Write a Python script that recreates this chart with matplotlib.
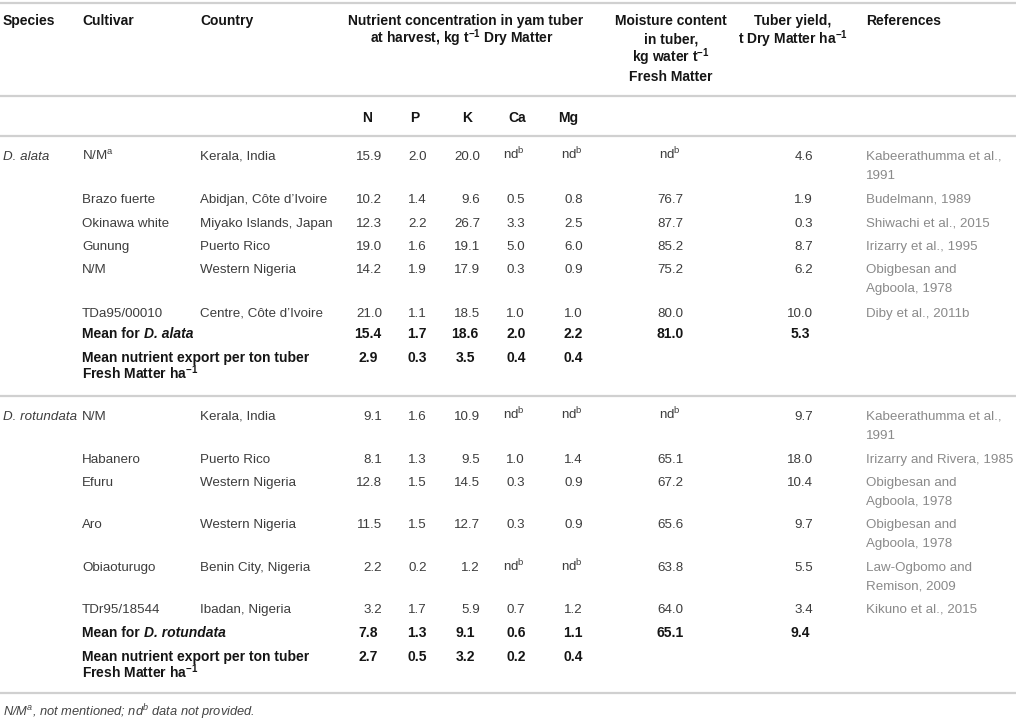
import matplotlib
matplotlib.use("Agg")
import matplotlib.pyplot as plt

plt.rcParams['font.family'] = ['Liberation Sans', 'DejaVu Sans']
plt.rcParams['mathtext.fontset'] = 'custom'
plt.rcParams['mathtext.rm'] = 'Liberation Sans'
plt.rcParams['mathtext.it'] = 'Liberation Sans:italic'
plt.rcParams['mathtext.bf'] = 'Liberation Sans:bold'
plt.rcParams['mathtext.bfit'] = 'Liberation Sans:italic:bold'

# ---------------- data ----------------
species = ["D. alata", "D. rotundata"]

alata_cultivar = [r"N/M$^{\mathrm{a}}$", "Brazo fuerte", "Okinawa white", "Gunung", "N/M", "TDa95/00010"]
alata_country = ["Kerala, India", "Abidjan, Côte d’Ivoire", "Miyako Islands, Japan",
                 "Puerto Rico", "Western Nigeria", "Centre, Côte d’Ivoire"]
alata_N = [15.9, 10.2, 12.3, 19.0, 14.2, 21.0]
alata_P = [2.0, 1.4, 2.2, 1.6, 1.9, 1.1]
alata_K = [20.0, 9.6, 26.7, 19.1, 17.9, 18.5]
alata_Ca = [None, 0.5, 3.3, 5.0, 0.3, 1.0]
alata_Mg = [None, 0.8, 2.5, 6.0, 0.9, 1.0]
alata_moisture = [None, 76.7, 87.7, 85.2, 75.2, 80.0]
alata_yield = [4.6, 1.9, 0.3, 8.7, 6.2, 10.0]
alata_refs = ["Kabeerathumma et al.,\n1991", "Budelmann, 1989", "Shiwachi et al., 2015",
              "Irizarry et al., 1995", "Obigbesan and\nAgboola, 1978", "Diby et al., 2011b"]
alata_mean = [15.4, 1.7, 18.6, 2.0, 2.2, 81.0, 5.3]
alata_export = [2.9, 0.3, 3.5, 0.4, 0.4]

rot_cultivar = ["N/M", "Habanero", "Efuru", "Aro", "Obiaoturugo", "TDr95/18544"]
rot_country = ["Kerala, India", "Puerto Rico", "Western Nigeria", "Western Nigeria",
               "Benin City, Nigeria", "Ibadan, Nigeria"]
rot_N = [9.1, 8.1, 12.8, 11.5, 2.2, 3.2]
rot_P = [1.6, 1.3, 1.5, 1.5, 0.2, 1.7]
rot_K = [10.9, 9.5, 14.5, 12.7, 1.2, 5.9]
rot_Ca = [None, 1.0, 0.3, 0.3, None, 0.7]
rot_Mg = [None, 1.4, 0.9, 0.9, None, 1.2]
rot_moisture = [None, 65.1, 67.2, 65.6, 63.8, 64.0]
rot_yield = [9.7, 18.0, 10.4, 9.7, 5.5, 3.4]
rot_refs = ["Kabeerathumma et al.,\n1991", "Irizarry and Rivera, 1985", "Obigbesan and\nAgboola, 1978",
            "Obigbesan and\nAgboola, 1978", "Law-Ogbomo and\nRemison, 2009", "Kikuno et al., 2015"]
rot_mean = [7.8, 1.3, 9.1, 0.6, 1.1, 65.1, 9.4]
rot_export = [2.7, 0.5, 3.2, 0.2, 0.4]

nutrients = ["N", "P", "K", "Ca", "Mg"]

# ---------------- layout ----------------
W, H = 1016, 720
fig = plt.figure(figsize=(W / 100, H / 100), dpi=100)
ax = fig.add_axes([0, 0, 1, 1])
ax.set_xlim(0, W)
ax.set_ylim(H, 0)
ax.axis('off')
renderer = fig.canvas.get_renderer()

FS = 9.6
FSB = 10.0
LH = 19          # line height in px
BASE = 4.8       # center -> baseline offset
C_HEAD = '#151515'
C_BODY = '#3d3d3d'
C_REF = '#8a8a8a'
C_LINE = '#d0d0d0'

x_species, x_cult, x_country, x_ref = 3, 82, 200, 866
nut_right = [382, 427, 480, 525, 583]
nut_center = [368, 417, 465, 516, 573]
x_moist = 670
yield_right, yield_center = 813, 800


def txt(x, y, s, ha='left', color=C_BODY, weight='normal', style='normal', fs=None):
    if fs is None:
        fs = FSB if weight == 'bold' else FS
    return ax.text(x, y + BASE, s, ha=ha, va='baseline', color=color, fontsize=fs,
                   fontweight=weight, fontstyle=style)


def multiline(x, y, s, **kw):
    for i, line in enumerate(s.split("\n")):
        txt(x, y + i * LH, line, **kw)


def hline(y):
    ax.plot([0, W], [y, y], color=C_LINE, lw=1.6, solid_capstyle='butt')


def fmt(v):
    return r"nd$^{\mathrm{b}}$" if v is None else f"{v:.1f}"


# rules
for yl in [3, 96, 136, 396, 693]:
    hline(yl)

# header
hb = dict(color=C_HEAD, weight='bold')
txt(x_species, 20, "Species", **hb)
txt(x_cult, 20, "Cultivar", **hb)
txt(x_country, 20, "Country", **hb)
txt(466, 20, "Nutrient concentration in yam tuber", ha='center', **hb)
txt(462, 38.5, r"at harvest, kg t$^{\mathbf{-1}}$ Dry Matter", ha='center', **hb)
moist_head = ["Moisture content", "in tuber,", r"kg water t$^{\mathbf{-1}}$", "Fresh Matter"]
for i, s in enumerate(moist_head):
    txt(671, 20 + i * 18.8, s, ha='center', **hb)
yield_head = ["Tuber yield,", r"t Dry Matter ha$^{\mathbf{-1}}$"]
for i, s in enumerate(yield_head):
    txt(793, 20 + i * 18.8, s, ha='center', **hb)
txt(x_ref, 20, "References", **hb)
hdr_center = [367, 415, 467, 517, 568]
for xc, nm in zip(hdr_center, nutrients):
    txt(xc, 117, nm, ha='center', **hb)


def mean_label(x, y, sp):
    t = txt(x, y, "Mean for", color=C_HEAD, weight='bold')
    bb = t.get_window_extent(renderer=renderer)
    xe = x + bb.width + 0.278 * FSB / 0.72
    txt(xe, y, sp, color=C_HEAD, weight='bold', style='italic')


def group(y_rows, y_mean, y_export, sp, cult, country, N, P, K, Ca, Mg, moist, yld, refs, mean, export):
    txt(x_species, y_rows[0], sp, style='italic')
    for i, y in enumerate(y_rows):
        txt(x_cult, y, cult[i])
        txt(x_country, y, country[i])
        for j, col in enumerate([N, P, K, Ca, Mg]):
            txt(nut_right[j], y, fmt(col[i]), ha='right')
        txt(x_moist, y, fmt(moist[i]), ha='center')
        txt(yield_right, y, fmt(yld[i]), ha='right')
        multiline(x_ref, y, refs[i], color=C_REF)
    # mean row
    mean_label(x_cult, y_mean, sp)
    for j in range(5):
        txt(nut_center[j], y_mean, f"{mean[j]:.1f}", ha='center', color=C_HEAD, weight='bold')
    txt(x_moist, y_mean, f"{mean[5]:.1f}", ha='center', color=C_HEAD, weight='bold')
    txt(yield_center, y_mean, f"{mean[6]:.1f}", ha='center', color=C_HEAD, weight='bold')
    # export row
    txt(x_cult, y_export, "Mean nutrient export per ton tuber", color=C_HEAD, weight='bold')
    txt(x_cult, y_export + 17.5, r"Fresh Matter ha$^{\mathbf{-1}}$", color=C_HEAD, weight='bold')
    for j in range(5):
        txt(nut_center[j], y_export, f"{export[j]:.1f}", ha='center', color=C_HEAD, weight='bold')


group([155, 198, 222, 245, 268, 312], 333, 357, species[0],
      alata_cultivar, alata_country, alata_N, alata_P, alata_K, alata_Ca, alata_Mg,
      alata_moisture, alata_yield, alata_refs, alata_mean, alata_export)
group([415, 458, 481, 523, 566, 608], 632, 656, species[1],
      rot_cultivar, rot_country, rot_N, rot_P, rot_K, rot_Ca, rot_Mg,
      rot_moisture, rot_yield, rot_refs, rot_mean, rot_export)

# footnote
txt(3, 711, r"N/M$^{\mathit{a}}$, not mentioned; nd$^{\mathit{b}}$ data not provided.",
    style='italic', color='#444444', fs=9.3)

fig.savefig("out.png", dpi=100, facecolor='white')
